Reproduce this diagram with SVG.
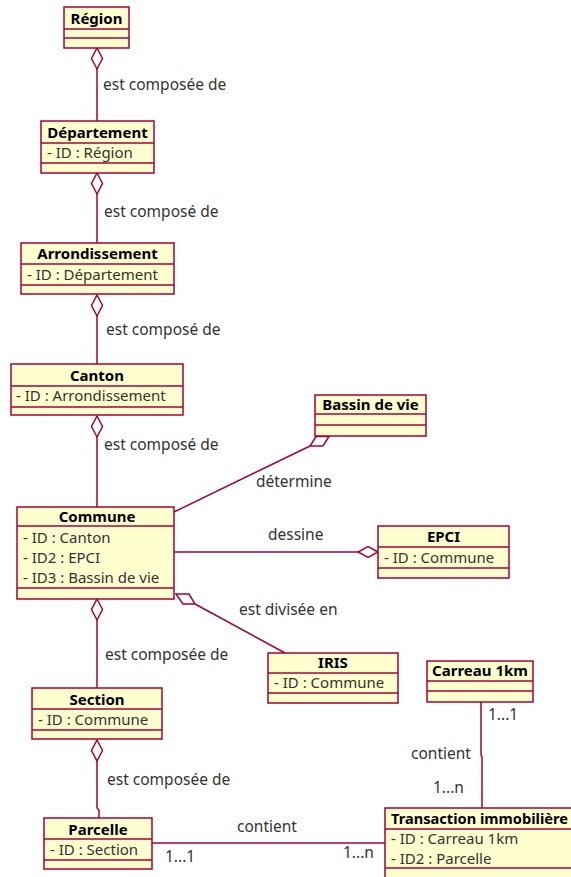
<svg xmlns="http://www.w3.org/2000/svg" width="571" height="877" viewBox="0 0 571 877">
<style>
.box{fill:#FEFECE;stroke:#A80036;stroke-width:1.5}
.sep{stroke:#A80036;stroke-width:1.5}
.t{font-family:"Noto Sans","Open Sans","DejaVu Sans",sans-serif;font-size:15px;font-weight:bold;fill:#000;text-anchor:middle}
.a{font-family:"Noto Sans","Open Sans","DejaVu Sans",sans-serif;font-size:15px;fill:#333}
.l{font-family:"Noto Sans","Open Sans","DejaVu Sans",sans-serif;font-size:15.5px;fill:#333}
.c{stroke:#A80036;stroke-width:1.5;fill:none}
.d{stroke:#A80036;stroke-width:1.5;fill:#fff}
</style>
<rect width="571" height="877" fill="#fff"/>
<g id="connectors">
<line class="c" x1="97" y1="69" x2="97" y2="121"/>
<polygon class="d" points="97,48 102.5,58.5 97,69 91.5,58.5"/>
<text class="l" x="103" y="90">est composée de</text>
<line class="c" x1="97" y1="194" x2="97" y2="243"/>
<polygon class="d" points="97,173 102.5,183.5 97,194 91.5,183.5"/>
<text class="l" x="104" y="217">est composé de</text>
<line class="c" x1="97" y1="316" x2="97" y2="364"/>
<polygon class="d" points="97,295 102.5,305.5 97,316 91.5,305.5"/>
<text class="l" x="106" y="335">est composé de</text>
<line class="c" x1="97" y1="437" x2="97" y2="507"/>
<polygon class="d" points="97,416 102.5,426.5 97,437 91.5,426.5"/>
<text class="l" x="104" y="450">est composé de</text>
<line class="c" x1="97" y1="620" x2="97" y2="688"/>
<polygon class="d" points="97,599 102.5,609.5 97,620 91.5,609.5"/>
<text class="l" x="105" y="660">est composée de</text>
<polyline class="c" points="97,761 97,808 99,810 99,818"/>
<polygon class="d" points="97,740 102.5,750.5 97,761 91.5,750.5"/>
<text class="l" x="107" y="785">est composée de</text>
<line class="c" x1="174" y1="512" x2="310" y2="446"/>
<polygon class="d" points="329,436.5 323,446 310,446 316,436.5"/>
<text class="l" x="256" y="487">détermine</text>
<line class="c" x1="174" y1="552" x2="358" y2="552"/>
<polygon class="d" points="378,552 368,546.5 358,552 368,557.5"/>
<text class="l" x="268" y="540">dessine</text>
<line class="c" x1="195" y1="604" x2="285" y2="653"/>
<polygon class="d" points="176,594 189,594 195,604 183,604"/>
<text class="l" x="239" y="615">est divisée en</text>
<line class="c" x1="152" y1="843" x2="385" y2="843"/>
<text class="l" x="237" y="832">contient</text>
<text class="l" x="165" y="862">1...1</text>
<text class="l" x="343" y="858">1...n</text>
<polyline class="c" points="481,702 481,755 482,757 482,808"/>
<text class="l" x="488" y="720">1...1</text>
<text class="l" x="411" y="759">contient</text>
<text class="l" x="433" y="793">1...n</text>
</g>
<g id="region">
<rect class="box" x="64" y="7" width="65" height="41"/>
<line class="sep" x1="64" y1="29" x2="129" y2="29"/>
<line class="sep" x1="64" y1="38" x2="129" y2="38"/>
<text class="t" x="96.5" y="24">Région</text>
</g>
<g id="departement">
<rect class="box" x="41" y="121" width="113" height="52"/>
<line class="sep" x1="41" y1="143" x2="154" y2="143"/>
<line class="sep" x1="41" y1="163" x2="154" y2="163"/>
<text class="t" x="97.5" y="138">Département</text>
<text class="a" x="47" y="158">- ID : Région</text>
</g>
<g id="arrondissement">
<rect class="box" x="21" y="243" width="153" height="51"/>
<line class="sep" x1="21" y1="264" x2="174" y2="264"/>
<line class="sep" x1="21" y1="285" x2="174" y2="285"/>
<text class="t" x="97.5" y="259">Arrondissement</text>
<text class="a" x="27" y="280">- ID : Département</text>
</g>
<g id="canton">
<rect class="box" x="11" y="364" width="172" height="51"/>
<line class="sep" x1="11" y1="386" x2="183" y2="386"/>
<line class="sep" x1="11" y1="407" x2="183" y2="407"/>
<text class="t" x="97" y="381">Canton</text>
<text class="a" x="16" y="401">- ID : Arrondissement</text>
</g>
<g id="commune">
<rect class="box" x="17" y="507" width="157" height="92"/>
<line class="sep" x1="17" y1="526" x2="174" y2="526"/>
<line class="sep" x1="17" y1="588" x2="174" y2="588"/>
<text class="t" x="97" y="522">Commune</text>
<text class="a" x="23" y="543">- ID : Canton</text>
<text class="a" x="23" y="563">- ID2 : EPCI</text>
<text class="a" x="23" y="583">- ID3 : Bassin de vie</text>
</g>
<g id="bassin">
<rect class="box" x="315" y="395" width="111" height="41"/>
<line class="sep" x1="315" y1="414" x2="426" y2="414"/>
<line class="sep" x1="315" y1="425" x2="426" y2="425"/>
<text class="t" x="370.5" y="410">Bassin de vie</text>
</g>
<g id="epci">
<rect class="box" x="378" y="526" width="131" height="52"/>
<line class="sep" x1="378" y1="547" x2="509" y2="547"/>
<line class="sep" x1="378" y1="568" x2="509" y2="568"/>
<text class="t" x="443.5" y="542">EPCI</text>
<text class="a" x="384" y="563">- ID : Commune</text>
</g>
<g id="iris">
<rect class="box" x="268" y="653" width="130" height="50"/>
<line class="sep" x1="268" y1="673" x2="398" y2="673"/>
<line class="sep" x1="268" y1="693" x2="398" y2="693"/>
<text class="t" x="333" y="668">IRIS</text>
<text class="a" x="274" y="688">- ID : Commune</text>
</g>
<g id="carreau">
<rect class="box" x="427" y="661" width="106" height="41"/>
<line class="sep" x1="427" y1="681" x2="533" y2="681"/>
<line class="sep" x1="427" y1="691" x2="533" y2="691"/>
<text class="t" x="480" y="676">Carreau 1km</text>
</g>
<g id="section">
<rect class="box" x="32" y="688" width="130" height="51"/>
<line class="sep" x1="32" y1="709" x2="162" y2="709"/>
<line class="sep" x1="32" y1="730" x2="162" y2="730"/>
<text class="t" x="97" y="705">Section</text>
<text class="a" x="38" y="725">- ID : Commune</text>
</g>
<g id="parcelle">
<rect class="box" x="44" y="818" width="108" height="51"/>
<line class="sep" x1="44" y1="839" x2="152" y2="839"/>
<line class="sep" x1="44" y1="860" x2="152" y2="860"/>
<text class="t" x="98" y="835">Parcelle</text>
<text class="a" x="50" y="855">- ID : Section</text>
</g>
<g id="transaction">
<rect class="box" x="385" y="808" width="195" height="80"/>
<line class="sep" x1="385" y1="829" x2="580" y2="829"/>
<line class="sep" x1="385" y1="868" x2="580" y2="868"/>
<text class="t" x="391" y="824" style="text-anchor:start" textLength="177" lengthAdjust="spacingAndGlyphs">Transaction immobilière</text>
<text class="a" x="391" y="844">- ID : Carreau 1km</text>
<text class="a" x="391" y="864">- ID2 : Parcelle</text>
</g>
</svg>
